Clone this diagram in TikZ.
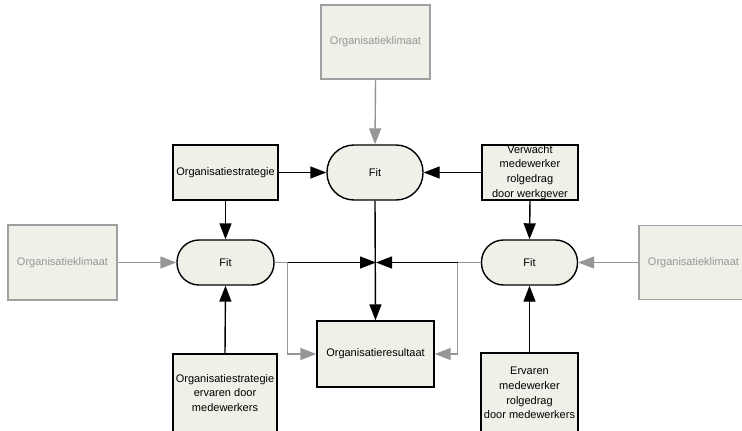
\documentclass[tikz,border=0pt]{standalone}
\usepackage{fontspec}
\setmainfont{Liberation Sans}
\usetikzlibrary{arrows.meta}
\definecolor{boxfill}{RGB}{240,240,232}
\definecolor{greyline}{RGB}{150,150,150}
\definecolor{greyedge}{RGB}{160,160,160}
\begin{document}
\begin{tikzpicture}[x=1pt,y=-1pt,
  box/.style={draw=black, line width=1.4pt, fill=boxfill, inner sep=0pt, align=center,
    font=\fontsize{11}{14.7}\selectfont},
  gbox/.style={box, draw=greyedge, text=greyline},
  fitbox/.style={box, rounded corners=22pt},
  blk/.style={line width=1.4pt, -{Triangle[length=16pt,width=12pt]}},
  gry/.style={line width=1.4pt, draw=greyline, -{Triangle[length=16pt,width=12pt,fill=greyline]}},
  gln/.style={line width=1.4pt, draw=greyline},
]
\useasboundingbox (0,0) rectangle (742,431);
\clip (0,0) rectangle (742,431);

% nodes
\node[gbox, minimum width=109pt, minimum height=74pt] (klimT) at (375.5,42) {Organisatieklimaat};
\node[box, minimum width=105pt, minimum height=55pt] (strat) at (225.5,172.5) {Organisatiestrategie};
\node[fitbox, rounded corners=27pt, minimum width=96pt, minimum height=55pt] (fitC) at (375,172.5) {Fit};
\node[box, minimum width=96pt, minimum height=55pt] (verw) at (530,172.5) {Verwacht\\medewerker\\rolgedrag\\door werkgever};
\node[gbox, minimum width=109pt, minimum height=75pt] (klimL) at (62.5,262.5) {Organisatieklimaat};
\node[fitbox, minimum width=97pt, minimum height=45pt] (fitL) at (225.5,262.5) {Fit};
\node[fitbox, minimum width=96pt, minimum height=45pt] (fitR) at (529.5,262.5) {Fit};
\node[gbox, minimum width=109pt, minimum height=74pt] (klimR) at (693.5,262.5) {Organisatieklimaat};
\node[box, minimum width=117pt, minimum height=66pt] (res) at (375.5,354) {Organisatieresultaat};
\node[box, minimum width=104pt, minimum height=78pt] (stratE) at (225,393) {Organisatiestrategie\\ervaren door\\medewerkers};
\node[box, minimum width=97pt, minimum height=80pt] (erv) at (529.5,393) {Ervaren\\medewerker\\rolgedrag\\door medewerkers};

\coordinate (J) at (376,262.5);
\coordinate (sL) at (287.5,262.5);
\coordinate (sR) at (457.5,262.5);

% connectors
\draw[gry] (klimT.south) -- (fitC.north);
\draw[blk] (strat.east) -- (fitC.west);
\draw[blk] (verw.west) -- (fitC.east);
\draw[blk] (strat.south) -- (fitL.north);
\draw[blk] (stratE.north) -- (fitL.south);
\draw[blk] (verw.south) -- (fitR.north);
\draw[blk] (erv.north) -- (fitR.south);
\draw[gry] (klimL.east) -- (fitL.west);
\draw[gry] (klimR.west) -- (fitR.east);

\draw[gln] (fitL.east) -- (sL);
\draw[gln] (fitR.west) -- (sR);
\draw[gry] (sL) |- (res.west);
\draw[gry] (sR) |- (res.east);
\draw[blk] (sL) -- (J);
\draw[blk] (sR) -- (J);
\draw[blk] (fitC.south) -- (res.north);
\end{tikzpicture}
\end{document}
